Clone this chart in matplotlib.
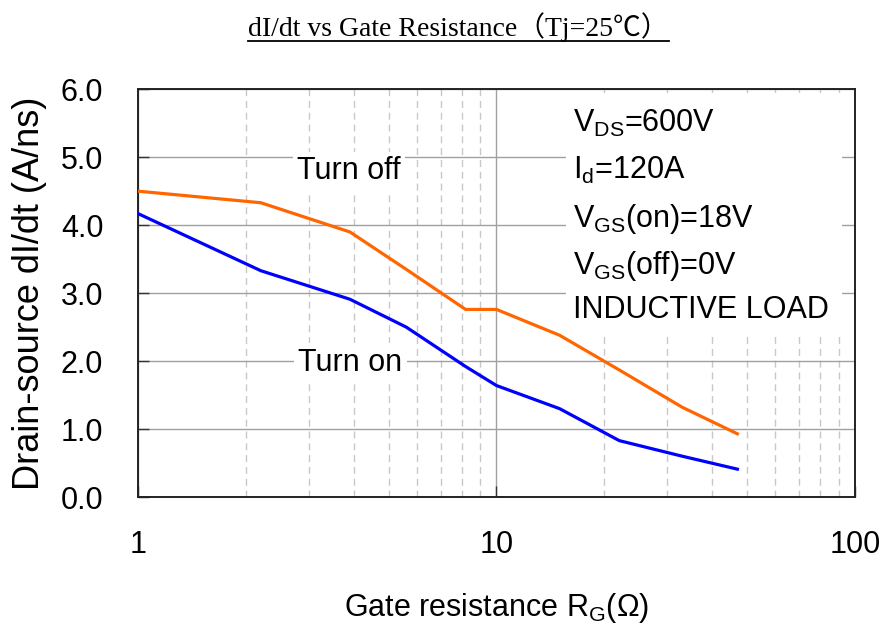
import matplotlib
matplotlib.use('Agg')
import matplotlib.pyplot as plt
from matplotlib.lines import Line2D
from matplotlib.patches import Rectangle
from matplotlib.ticker import LogLocator, NullFormatter, FixedLocator

plt.rcParams['font.family'] = ['Liberation Sans', 'DejaVu Sans']
plt.rcParams['mathtext.default'] = 'regular'

# gate resistance (ohm) and dI/dt (A/ns)
rg = [1, 2.2, 3.9, 5.6, 8.2, 10, 15, 22, 33, 47]
turn_off = [4.50, 4.33, 3.90, 3.35, 2.76, 2.76, 2.38, 1.87, 1.32, 0.93]
turn_on = [4.17, 3.33, 2.91, 2.50, 1.92, 1.64, 1.30, 0.83, 0.60, 0.41]

yticks = [0, 1, 2, 3, 4, 5, 6]
xticks = [1, 10, 100]
conditions = [r'V$_{DS}$=600V', r'I$_{d}$=120A', r'V$_{GS}$(on)=18V',
              r'V$_{GS}$(off)=0V', 'INDUCTIVE LOAD']

fig = plt.figure(figsize=(8.85, 6.24), dpi=100)
ax = fig.add_axes([0.156, 0.2035, 0.81, 0.6535])

ax.set_xscale('log')
ax.set_xlim(1, 100)
ax.set_ylim(0, 6)

ax.plot(rg, turn_off, color='#FF6600', lw=2.3, zorder=4)
ax.plot(rg, turn_on, color='#0000FF', lw=2.3, zorder=4)

# grid
ax.xaxis.set_major_locator(FixedLocator(xticks))
ax.xaxis.set_minor_locator(LogLocator(base=10, subs=range(2, 10)))
ax.xaxis.set_minor_formatter(NullFormatter())
ax.set_xticklabels([str(v) for v in xticks])
ax.set_yticks(yticks)
ax.set_yticklabels(['%.1f' % v for v in yticks])
ax.grid(True, which='major', axis='both', color='#A0A0A0', lw=1.0, ls='-')
ax.grid(True, which='minor', axis='x', color='#C8C8C8', lw=1.0, ls=(0, (5, 3.5)))
ax.set_axisbelow(True)

ax.tick_params(axis='both', which='major', direction='in', length=8, width=1,
               labelsize=22, color='#333333')
ax.tick_params(axis='y', pad=25)
ax.tick_params(axis='x', pad=24)
ax.tick_params(axis='x', which='minor', length=0)
for s in ax.spines.values():
    s.set_linewidth(1.4)
    s.set_color('#222222')

ax.set_xlabel(r'Gate resistance R$_{G}$($\Omega$)', fontsize=22, labelpad=22)
ax.set_ylabel('Drain-source dI/dt (A/ns)', fontsize=26, labelpad=10)

# curve labels
ax.text(0.294, 0.779, 'Turn off', transform=ax.transAxes, fontsize=22,
        ha='center', va='baseline', zorder=3,
        bbox=dict(facecolor='white', edgecolor='none', pad=3))
ax.text(0.296, 0.31, 'Turn on', transform=ax.transAxes, fontsize=22,
        ha='center', va='baseline', zorder=3,
        bbox=dict(facecolor='white', edgecolor='none', pad=3))

# conditions block
ax.add_patch(Rectangle((0.597, 0.40), 0.385, 0.59, transform=ax.transAxes,
                       facecolor='white', edgecolor='none', zorder=2))
ys = [0.895, 0.779, 0.6625, 0.5466, 0.4387]
for txt, yy in zip(conditions, ys):
    ax.text(0.607, yy, txt, transform=ax.transAxes, fontsize=22,
            ha='left', va='baseline', zorder=3)

# underlined title
title = fig.text(0.518, 0.942, 'dI/dt vs Gate Resistance（Tj=25℃）',
                 family=['Liberation Serif', 'Noto Sans CJK SC'], fontsize=20,
                 ha='center', va='baseline')
fig.canvas.draw()
bb = title.get_window_extent().transformed(fig.transFigure.inverted())
fig.add_artist(Line2D([bb.x0, bb.x1], [0.935, 0.935], transform=fig.transFigure,
                      color='black', lw=1.3))

fig.savefig('out.png', dpi=100)
